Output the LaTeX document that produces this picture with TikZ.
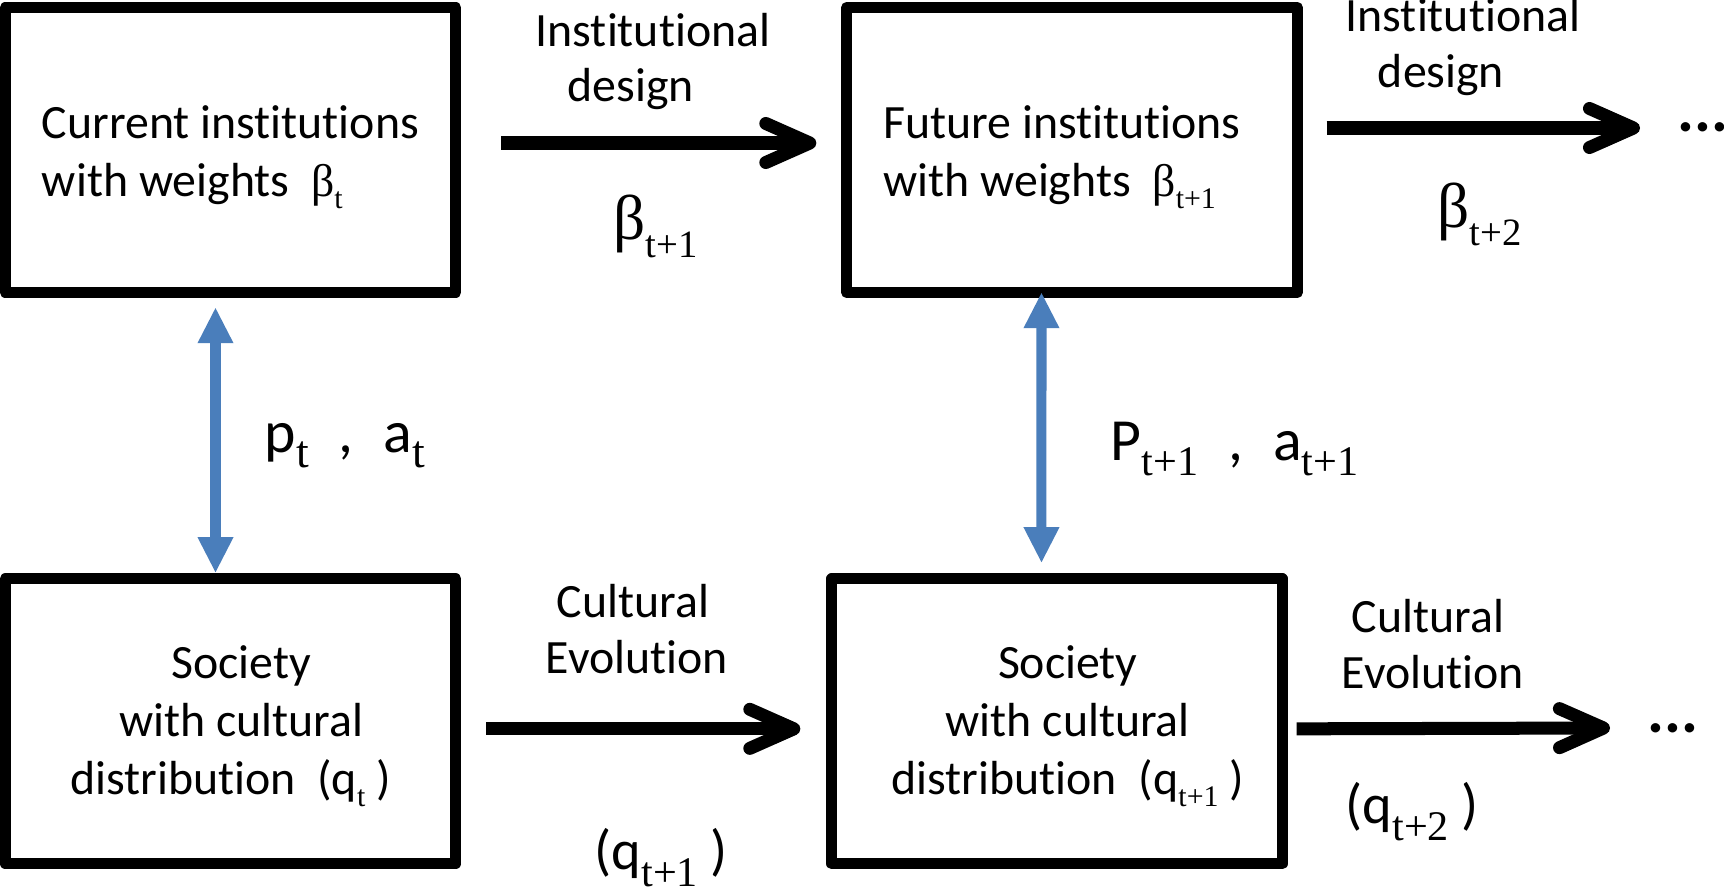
\documentclass[tikz,border=0pt]{standalone}
\usepackage{fontspec}
\setmainfont[Ligatures=NoCommon]{Carlito}
\newfontfamily\tms{Liberation Serif}
\usetikzlibrary{arrows.meta,positioning}
\definecolor{linkblue}{RGB}{74,126,187}
\newcommand{\gbeta}[1]{{\tms\fontsize{#1}{#1}\selectfont β}}
\newcommand{\lowsub}[3][4.5pt]{\raisebox{-#1}{\tms\fontsize{#2}{#2}\selectfont #3}}
\newcommand{\topstrut}[1]{\rule{0pt}{#1}}
\tikzset{
  stage/.style={draw,line width=0.11cm,line join=round,minimum width=4.5cm,minimum height=2.85cm,inner sep=0pt},
  inststage/.style={stage,align=left,font=\fontsize{13.6}{16.5}\selectfont},
  socstage/.style={stage,align=center,font=\fontsize{13.6}{16.4}\selectfont},
  flow/.style={line width=0.13cm,-{Straight Barb[length=4.4mm,width=3.9mm,round]}},
  link/.style={linkblue,line width=0.1cm,{Triangle[length=3.5mm,width=3.6mm,line width=0pt]}-{Triangle[length=3.5mm,width=3.6mm,line width=0pt]}},
  lbl/.style={anchor=base,inner sep=0pt,font=\fontsize{13.6}{16.5}\selectfont},
  more/.style={anchor=base west,inner sep=0pt,font=\fontsize{18}{18}\selectfont\bfseries}
}
\begin{document}
\begin{tikzpicture}[x=0.01cm,y=-0.01cm]
\useasboundingbox (0,0) rectangle (1724,891);

% institutions
\node[inststage] (curr) at (230.5,150) {\topstrut{13.3pt}Current institutions\\with weights\ \ \gbeta{13}\lowsub[3.4pt]{8.5}{t}};
\node[inststage,right=3.8cm of curr] (fut) {\topstrut{13.3pt}Future institutions\hspace*{2mm}\\with weights\ \ \gbeta{13}\lowsub[3.4pt]{8.5}{t+1}};

% societies
\node[socstage,below=2.75cm of curr] (soc1) {\topstrut{12.3pt}\ \ Society\\\ \ with cultural\\distribution\ \ (q\lowsub[3.6pt]{8.5}{t} )};
\node[socstage,right=3.65cm of soc1] (soc2) {\topstrut{12.3pt}\ \ Society\\\ \ with cultural\\\ \ distribution\ \ (q\lowsub[3.6pt]{8.5}{t+1} )};

% ellipses
\node[more] (etc1) at (1677,132) {...};
\node[more] (etc2) at (1647,732) {...};

% design and evolution steps
\draw[flow] ([shift={(40,-7)}]curr.east) -- ([shift={(-25,-7)}]fut.west);
\draw[flow] ([shift={(24,-22)}]fut.east) -- ([shift={(-37,-4)}]etc1.base west);
\draw[flow] ([shift={(25,7.5)}]soc1.east) -- ([shift={(-26,7.5)}]soc2.west);
\draw[flow] ([shift={(9,7.5)}]soc2.east) -- ([shift={(-37,-4)}]etc2.base west);

% interaction
\draw[link] ([shift={(-15,10)}]curr.south) -- ([shift={(-15,-1)}]soc1.north);
\draw[link] ([shift={(-30.5,-5)}]fut.south) -- ([shift={(-15.5,-11)}]soc2.north);

% labels
\node[lbl] (inst1) at (653,47) {Institutional};
\node[lbl] (des1) at (631,102) {design};
\node[lbl,anchor=base west] (bnext1) at (613,240) {\gbeta{18}\lowsub[5pt]{11}{t+1}};
\node[lbl] (inst2) at (1463,32) {Institutional};
\node[lbl] (des2) at (1441,88) {design};
\node[lbl,anchor=base west] (bnext2) at (1437,228) {\gbeta{18}\lowsub[5pt]{11}{t+2}};
\node[lbl] (cul1) at (633,617) {Cultural};
\node[lbl] (evo1) at (637,673) {Evolution};
\node[lbl,anchor=base west,font=\fontsize{16}{16}\selectfont] (qnext1) at (594,869) {(q\lowsub[5pt]{12}{t+1} )};
\node[lbl] (cul2) at (1428,632) {Cultural};
\node[lbl] (evo2) at (1433,688) {Evolution};
\node[lbl,anchor=base west,font=\fontsize{16}{16}\selectfont] (qnext2) at (1345,823) {(q\lowsub[5pt]{12}{t+2} )};
\node[lbl,anchor=base west,font=\fontsize{17}{17}\selectfont] (pa1) at (264,452) {p\lowsub[4.3pt]{13}{t}\hspace{3mm},\hspace{3mm}a\lowsub[4.3pt]{13}{t}};
\node[lbl,anchor=base west,font=\fontsize{17}{17}\selectfont] (pa2) at (1110,460) {P\lowsub[4.3pt]{12}{t+1}\hspace{3mm},\hspace{3mm}a\lowsub[4.3pt]{12}{t+1}};
\end{tikzpicture}
\end{document}
